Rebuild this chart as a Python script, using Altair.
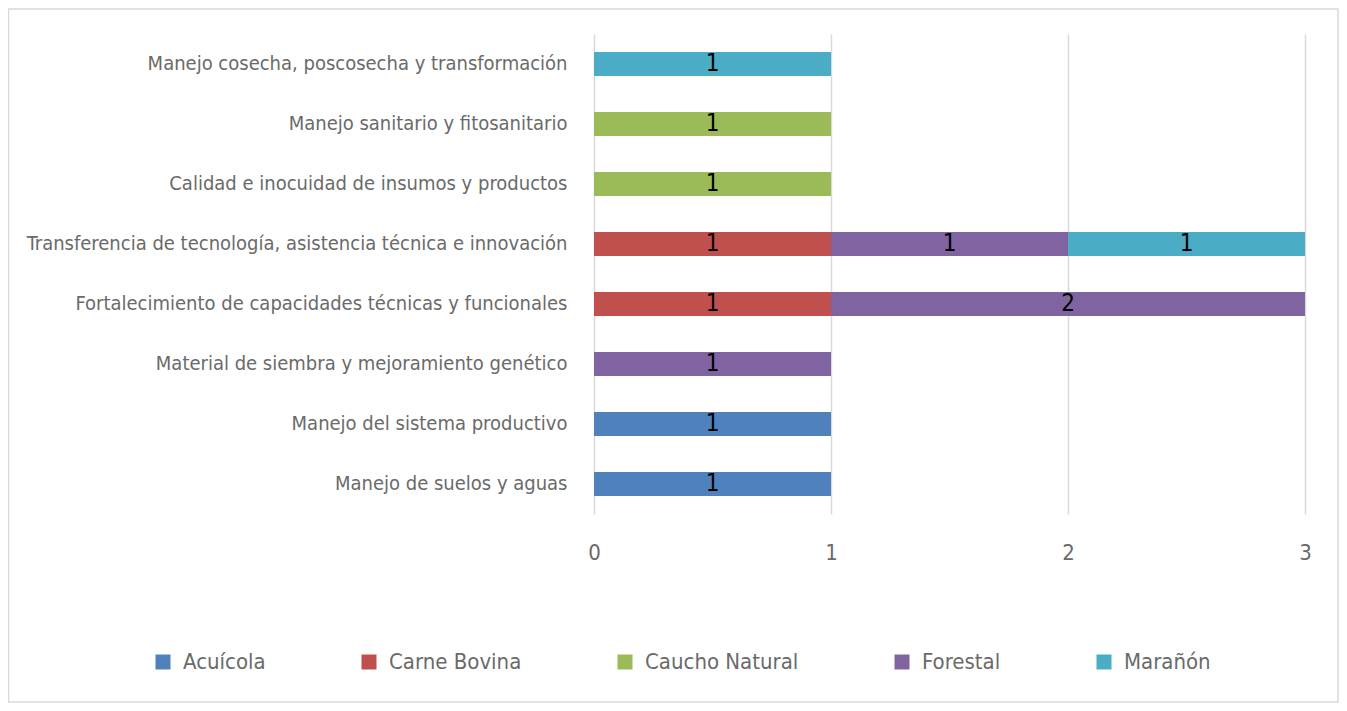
import altair as alt
import pandas as pd

categories = [
    "Manejo cosecha, poscosecha y transformación",
    "Manejo sanitario y fitosanitario",
    "Calidad e inocuidad de insumos y productos",
    "Transferencia de tecnología, asistencia técnica e innovación",
    "Fortalecimiento de capacidades técnicas y funcionales",
    "Material de siembra y mejoramiento genético",
    "Manejo del sistema productivo",
    "Manejo de suelos y aguas",
]
series = ["Acuícola", "Carne Bovina", "Caucho Natural", "Forestal", "Marañón"]
colors = ["#4F81BD", "#C0504D", "#9BBB59", "#8064A2", "#4BACC6"]

acuicola = [0, 0, 0, 0, 0, 0, 1, 1]
carne_bovina = [0, 0, 0, 1, 1, 0, 0, 0]
caucho_natural = [0, 1, 1, 0, 0, 0, 0, 0]
forestal = [0, 0, 0, 1, 2, 1, 0, 0]
maranon = [1, 0, 0, 1, 0, 0, 0, 0]

x_ticks = [0, 1, 2, 3]

rows = []
for si, (name, vals) in enumerate(zip(series, [acuicola, carne_bovina, caucho_natural, forestal, maranon])):
    for cat, v in zip(categories, vals):
        if v:
            rows.append({"category": cat, "serie": name, "value": v, "order": si})
df = pd.DataFrame(rows)

FONT = "DejaVu Sans Condensed, Liberation Sans Narrow, Roboto, sans-serif"
GRAY = "#6a6a6a"

y_enc = alt.Y(
    "category:N",
    sort=categories,
    scale=alt.Scale(paddingInner=0.6, paddingOuter=0.3),
    axis=alt.Axis(
        title=None, domain=False, ticks=False, labelPadding=27, labelLimit=700,
        labelFontSize=20, labelColor=GRAY, labelFont=FONT,
    ),
)

base = alt.Chart(df)

bars = base.mark_bar().encode(
    x=alt.X(
        "value:Q",
        stack="zero",
        scale=alt.Scale(domain=[0, 3], nice=False),
        axis=alt.Axis(
            title=None, values=x_ticks, domain=False, ticks=False, labelPadding=28,
            labelFontSize=22, labelColor=GRAY, labelFont=FONT, gridColor="#d9d9d9",
            gridWidth=1.5, format="d", labelFlush=False,
        ),
    ),
    y=y_enc,
    color=alt.Color(
        "serie:N",
        scale=alt.Scale(domain=series, range=colors),
        legend=alt.Legend(
            title=None, orient="none", direction="horizontal", legendX=-442, legendY=617,
            symbolType="square", symbolSize=225, symbolStrokeWidth=0, labelFontSize=22,
            labelColor=GRAY, labelFont=FONT, labelOffset=9, columnPadding=92, padding=0,
        ),
    ),
    order=alt.Order("order:Q"),
)

labels = base.transform_stack(
    stack="value", groupby=["category"], as_=["x0", "x1"],
    sort=[alt.SortField("order", order="ascending")],
).transform_calculate(
    mid="(datum.x0 + datum.x1) / 2"
).mark_text(fontSize=24, color="black", font=FONT, baseline="middle", align="center").encode(
    x=alt.X("mid:Q"),
    y=alt.Y("category:N", sort=categories),
    text=alt.Text("value:Q"),
)

border = alt.Chart(pd.DataFrame({"a": [0]})).mark_rect(
    fill=None, stroke="#d9d9d9", strokeWidth=1.5
).encode(
    x=alt.value(-585.5), x2=alt.value(744), y=alt.value(-25), y2=alt.value(668)
)

chart = alt.layer(bars, labels, border).properties(
    width=711, height=480,
    autosize=alt.AutoSizeParams(type="none"),
    padding={"left": 586, "top": 26, "right": 34, "bottom": 189},
).configure(font=FONT).configure_view(stroke="transparent", strokeWidth=0)

chart.save("out.html", embed_options={"renderer": "svg", "actions": False})
